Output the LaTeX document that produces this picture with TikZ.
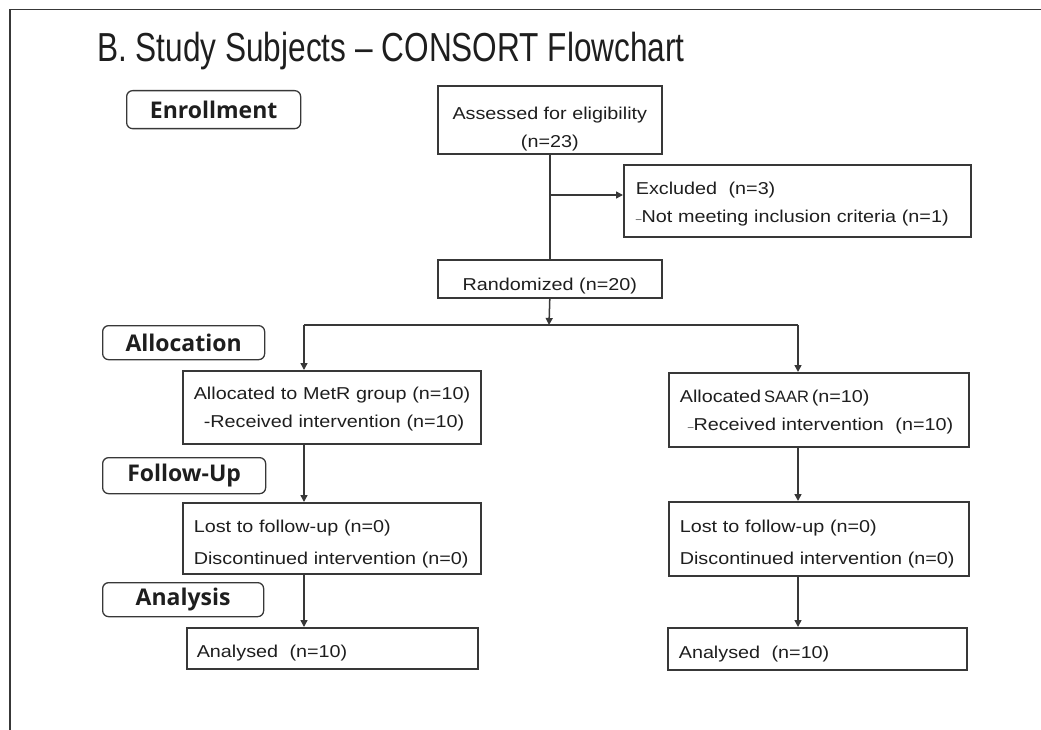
\documentclass[tikz,border=0pt]{standalone}
\usepackage{fontspec}
\setmainfont{Liberation Sans}
\newfontfamily\boxfont[FakeStretch=1.15]{Liberation Sans}
\newfontfamily\titlefont[FakeStretch=0.78]{Liberation Sans}
\newfontfamily\phasefont{Open Sans}
\usetikzlibrary{positioning, arrows.meta}
\definecolor{linegray}{HTML}{383838}
\definecolor{inkgray}{HTML}{1E1E1E}
\tikzset{box/.style={draw=linegray, line width=1.6pt, rectangle, anchor=north west, inner sep=0pt,
    font=\boxfont\fontsize{17.2}{28}\selectfont, text=inkgray}}
\tikzset{phase/.style={draw=linegray, line width=1.3pt, rounded corners=6pt, anchor=north west, inner sep=0pt,
    font=\phasefont\bfseries\fontsize{23}{23}\selectfont, text=inkgray}}
\tikzset{flow/.style={draw=linegray, line width=1.5pt}}
\newcommand{\smalldash}{{\fontsize{9}{9}\selectfont –}}
\newcommand{\saar}{{\fontspec{Liberation Sans}\fontsize{16.5}{28}\selectfont SAAR}}

\begin{document}
\begin{tikzpicture}[x=1pt, y=-1pt, >={Triangle[length=7pt,width=7pt]}]
            \useasboundingbox (0,0) rectangle (1041,730);
            \draw[flow] (10,730) -- (10,9.5) -- (1041,9.5);
            \node[anchor=base west, inner sep=0pt, text=inkgray, font=\titlefont\fontsize{40.5}{40}\selectfont] (title) at (97,62) {B. Study Subjects – CONSORT Flowchart};
            % stage labels
            \node[phase, minimum width=174pt, minimum height=38pt] (enroll) at (126,90) {Enrollment};
            \node[phase, minimum width=162pt, minimum height=34pt] (alloc) at (102,325) {Allocation};
            \node[phase, minimum width=163pt, minimum height=36pt] (follow) at (102,457) {Follow-Up};
            \node[phase, minimum width=161pt, minimum height=34pt] (analysis) at (102,582) {Analysis};
            % boxes
            \node[box, minimum width=224pt, minimum height=68pt, align=center, text height=60pt, text depth=4pt] (assess) at (437,85) {Assessed for eligibility\\(n=23)};
            \node[box, minimum width=347pt, minimum height=72pt, inner xsep=12pt, text width=323pt, align=left, text height=20pt, text depth=32pt] (excl) at (623,164) {Excluded\ \ (n=3)\\\smalldash Not meeting inclusion criteria (n=1)};
            \node[box, minimum width=224pt, minimum height=38pt, align=center, text height=26pt, text depth=2pt] (rand) at (437,259) {Randomized (n=20)};
            \node[box, minimum width=298pt, minimum height=73pt, inner xsep=9pt, text width=280pt, align=left, text height=17pt, text depth=32pt] (metr) at (182,370) {\hspace*{2pt}Allocated to MetR group (n=10)\\\hspace*{12pt}-Received intervention (n=10)};
            \node[box, minimum width=300pt, minimum height=74pt, inner xsep=9pt, text width=282pt, align=left, text height=18pt, text depth=32pt] (saar) at (668,372) {\hspace*{2pt}Allocated\,\saar\,(n=10)\\\hspace*{10pt}\smalldash Received\ intervention\ \ (n=10)};
            \node[box, minimum width=298pt, minimum height=71pt, inner xsep=9pt, text width=280pt, align=left, text height=25pt, text depth=36pt] (lostL) at (182,502) {\hspace*{2pt}Lost to follow-up (n=0)\\[4pt]\hspace*{2pt}Discontinued intervention (n=0)};
            \node[box, minimum width=300pt, minimum height=74pt, inner xsep=9pt, text width=282pt, align=left, text height=24pt, text depth=36pt] (lostR) at (668,501) {\hspace*{2pt}Lost to follow-up (n=0)\\[4pt]\hspace*{2pt}Discontinued intervention (n=0)};
            \node[box, minimum width=291pt, minimum height=41pt, inner xsep=10pt, text width=271pt, align=left, text height=22pt, text depth=3pt] (anaL) at (186,627) {Analysed\ \ (n=10)};
            \node[box, minimum width=299pt, minimum height=42pt, inner xsep=11pt, text width=277pt, align=left, text height=22pt, text depth=3pt] (anaR) at (667,627) {Analysed\ \ (n=10)};
            % branch points
            \coordinate (exclbr) at (549,195);
            \coordinate (split) at (549,325);
            \coordinate (leftbr) at (304,325);
            \coordinate (rightbr) at (798,325);
            \draw[flow] (assess.south) -- (rand.north);
            \draw[flow,->] (exclbr) -- (exclbr -| excl.west);
            \draw[flow,->] (rand.south) -- (split);
            \draw[flow] (leftbr) -- (rightbr);
            \draw[flow,->] (leftbr) -- (leftbr |- metr.north);
            \draw[flow,->] (rightbr) -- (rightbr |- saar.north);
            \draw[flow,->] (metr.south -| leftbr) -- (lostL.north -| leftbr);
            \draw[flow,->] (saar.south -| rightbr) -- (lostR.north -| rightbr);
            \draw[flow,->] (lostL.south -| leftbr) -- (anaL.north -| leftbr);
            \draw[flow,->] (lostR.south -| rightbr) -- (anaR.north -| rightbr);
\end{tikzpicture}
\end{document}
